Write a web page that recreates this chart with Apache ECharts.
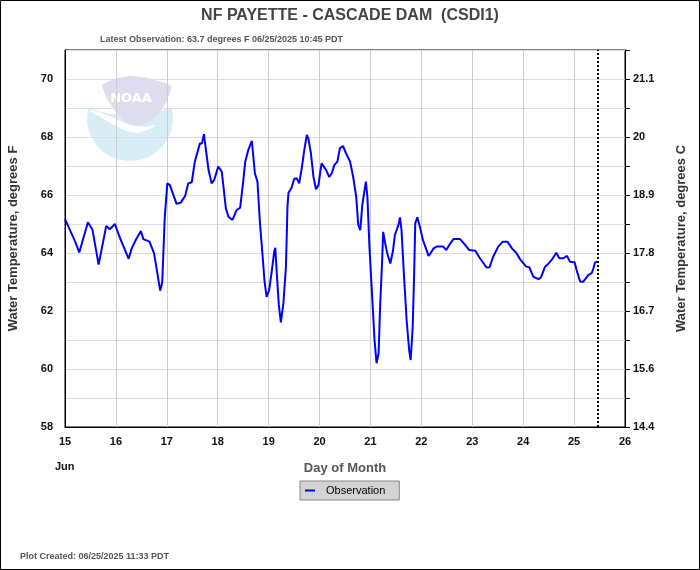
<!DOCTYPE html>
<html>
<head>
<meta charset="utf-8">
<script src="https://cdn.jsdelivr.net/npm/echarts@6/dist/echarts.min.js"></script>
<style>
html,body{margin:0;padding:0;background:#fff;}
#chart{width:700px;height:570px;}
</style>
</head>
<body>
<div id="chart"></div>
<script>
// Day of month (fractional, June 2025) and water temperature (degrees F)
const days = [
15.00,15.20,15.28,15.45,15.54,15.66,15.81,15.88,15.98,16.07,16.18,16.25,16.31,16.39,16.49,16.54,16.66,16.75,16.87,16.91,
16.96,17.01,17.06,17.19,17.27,17.36,17.42,17.49,17.55,17.65,17.69,17.73,17.76,17.82,17.88,17.93,18.01,18.08,18.16,18.21,
18.29,18.37,18.44,18.50,18.54,18.60,18.67,18.73,18.78,18.83,18.88,18.92,18.96,19.01,19.06,19.11,19.13,19.16,19.20,19.24,
19.29,19.34,19.37,19.39,19.45,19.50,19.55,19.60,19.65,19.70,19.75,19.78,19.83,19.88,19.93,19.98,20.01,20.04,20.07,20.13,
20.19,20.24,20.29,20.35,20.40,20.46,20.52,20.60,20.66,20.72,20.76,20.80,20.84,20.87,20.91,20.94,20.98,21.03,21.08,21.12,
21.16,21.19,21.23,21.25,21.29,21.33,21.39,21.44,21.48,21.55,21.58,21.61,21.66,21.71,21.76,21.79,21.83,21.86,21.88,21.92,
21.97,22.03,22.09,22.14,22.18,22.24,22.30,22.37,22.43,22.49,22.56,22.63,22.76,22.86,22.94,23.06,23.15,23.28,23.34,23.41,
23.51,23.60,23.69,23.78,23.87,23.94,24.06,24.12,24.20,24.30,24.35,24.43,24.50,24.56,24.65,24.71,24.79,24.86,24.92,25.01,
25.05,25.12,25.18,25.28,25.35,25.38,25.41,25.45
];
const tempsF = [
65.17,64.39,64.02,65.06,64.80,63.60,64.93,64.82,65.00,64.56,64.10,63.80,64.16,64.45,64.76,64.48,64.39,63.99,62.70,62.99,
65.25,66.40,66.34,65.70,65.73,65.97,66.40,66.44,67.15,67.78,67.78,68.10,67.67,66.86,66.40,66.52,66.98,66.80,65.54,65.25,
65.14,65.48,65.56,66.46,67.15,67.55,67.87,66.75,66.46,65.02,63.93,63.01,62.49,62.72,63.36,64.05,64.18,63.30,62.21,61.61,
62.27,63.53,65.60,66.08,66.25,66.55,66.58,66.40,66.92,67.55,68.07,67.95,67.44,66.63,66.20,66.34,66.75,67.09,67.11,66.86,
66.62,66.75,67.03,67.15,67.61,67.69,67.44,67.15,66.63,65.94,64.97,64.79,65.66,66.00,66.46,65.94,64.22,62.61,61.00,60.20,
60.54,62.15,63.76,64.73,64.33,63.99,63.64,64.05,64.62,64.97,65.23,64.79,63.18,61.69,60.66,60.31,61.46,63.41,65.02,65.23,
64.91,64.45,64.16,63.90,63.99,64.16,64.22,64.22,64.22,64.10,64.31,64.48,64.48,64.28,64.10,64.08,63.82,63.50,63.51,63.87,
64.22,64.39,64.39,64.16,63.99,63.78,63.53,63.51,63.18,63.10,63.16,63.53,63.64,63.76,64.01,63.82,63.82,63.90,63.70,63.68,
63.41,63.01,63.01,63.24,63.32,63.47,63.67,63.70
];
const xTicks = [15,16,17,18,19,20,21,22,23,24,25,26];
const plotCreatedDay = 25.47; // 06/25/2025 11:33 PDT
const titleText = 'NF PAYETTE - CASCADE DAM  (CSDI1)';
const subtitleText = 'Latest Observation: 63.7 degrees F 06/25/2025 10:45 PDT';
const createdText = 'Plot Created: 06/25/2025 11:33 PDT';
const seriesName = 'Observation';

const seriesData = days.map((d, i) => [d, tempsF[i]]);
const FONT = '"Liberation Sans", Arial, sans-serif';

function fToC(v) {
  const c = (v - 32) * 5 / 9;
  let s = c.toFixed(1);
  if (s.endsWith('.0')) s = s.slice(0, -2);
  return s;
}

// NOAA watermark shapes (decoration)
const cx = 130, cy = 118, r = 43;
const cyanPts = [];
for (let a = 0; a <= 180; a += 4) {
  const t = a * Math.PI / 180;
  cyanPts.push([cx + r * Math.cos(t), cy + r * Math.sin(t)]);
}
cyanPts.push([cx - r + 1, cy - 10]);
cyanPts.push([cx - 20, cy - 4]);
cyanPts.push([cx + 25, cy - 6]);
cyanPts.push([cx + r - 1, cy - 10]);

const chart = echarts.init(document.getElementById('chart'), null, {renderer: 'canvas'});
chart.setOption({
  animation: false,
  backgroundColor: '#fff',
  textStyle: {fontFamily: FONT},
  title: {
    text: titleText,
    left: 'center',
    top: 3,
    textStyle: {fontSize: 16, fontWeight: 'bold', color: '#444', fontFamily: FONT}
  },
  graphic: [
    {type: 'rect', z: 100, silent: true, shape: {x: 0.5, y: 0.5, width: 699, height: 569},
     style: {fill: 'none', stroke: '#000', lineWidth: 1}},
    {type: 'polygon', z: -5, silent: true, shape: {points: cyanPts}, style: {fill: '#d8eef7'}},
    {type: 'polygon', z: -4, silent: true, shape: {points: [
      [101.7,85],[113.3,79],[130,75.7],[146.7,77.7],[166.7,83.3],[171.7,86.7],[166.7,101.7],[158.3,115],
      [146.7,123.3],[136.7,126.7],[126.7,123.3],[116.7,113.3],[106.7,98.3]]}, style: {fill: '#dedcef'}},
    {type: 'polygon', z: -3, silent: true, shape: {points: [
      [88,110],[100,117],[114,125],[126,131],[138,133],[150,129],[157,125],[144,127],[130,125],[116,119],[100,112]]},
     style: {fill: '#ffffff'}},
    {type: 'text', z: -2, silent: true, style: {text: 'NOAA', x: 131, y: 99, align: 'center', verticalAlign: 'middle',
      fill: '#ffffff', font: 'bold 13px "DejaVu Sans", sans-serif'}},
    {type: 'text', silent: true, style: {text: subtitleText, x: 100, y: 40, verticalAlign: 'middle',
      fill: '#555', font: 'bold 9px ' + FONT}},
    {type: 'text', silent: true, style: {text: 'Jun', x: 55, y: 467, verticalAlign: 'middle',
      fill: '#111', font: 'bold 11px ' + FONT}},
    {type: 'text', silent: true, style: {text: createdText, x: 20, y: 557, verticalAlign: 'middle',
      fill: '#555', font: 'bold 9px ' + FONT}}
  ],
  legend: {
    data: [seriesName],
    left: 300,
    top: 481,
    backgroundColor: '#d3d3d3',
    borderColor: '#888',
    borderWidth: 1,
    borderRadius: 0,
    padding: [4, 14, 4, 5],
    itemWidth: 10,
    itemHeight: 2,
    icon: 'rect',
    itemGap: 10,
    textStyle: {fontSize: 11, color: '#000', fontFamily: FONT, padding: [0,0,0,6]}
  },
  grid: {left: 65, right: 75, top: 50, bottom: 143, show: true, borderColor: '#000', borderWidth: 1,
    backgroundColor: 'transparent', containLabel: false, outerBoundsMode: 'none'},
  xAxis: {
    type: 'value', min: xTicks[0], max: xTicks[xTicks.length - 1], interval: 1,
    name: 'Day of Month', nameLocation: 'middle', nameGap: 35,
    nameTextStyle: {fontSize: 13, fontWeight: 'bold', color: '#555', fontFamily: FONT},
    axisLine: {show: true, lineStyle: {color: '#000', width: 1}},
    axisTick: {show: false},
    axisLabel: {fontSize: 11, fontWeight: 'bold', color: '#111', margin: 9, showMinLabel: true, showMaxLabel: true,
      fontFamily: FONT},
    splitLine: {show: true, lineStyle: {color: '#cccccc', width: 1}}
  },
  yAxis: [
    {
      type: 'value', min: 58, max: 71, interval: 1, position: 'left',
      name: 'Water Temperature, degrees F', nameLocation: 'middle', nameGap: 45, nameRotate: 90,
      nameTextStyle: {fontSize: 13, fontWeight: 'bold', color: '#333', fontFamily: FONT},
      axisLine: {show: true, lineStyle: {color: '#000'}},
      axisTick: {show: false},
      axisLabel: {fontSize: 11, fontWeight: 'bold', color: '#111', margin: 12, fontFamily: FONT,
        showMinLabel: true, showMaxLabel: true,
        formatter: v => (Math.round(v) % 2 === 0 ? String(v) : '')},
      splitLine: {show: true, lineStyle: {color: '#dddddd', width: 1}}
    },
    {
      type: 'value', min: 58, max: 71, interval: 1, position: 'right',
      name: 'Water Temperature, degrees C', nameLocation: 'middle', nameGap: 50, nameRotate: 90,
      nameTextStyle: {fontSize: 13, fontWeight: 'bold', color: '#333', fontFamily: FONT},
      axisLine: {show: true, lineStyle: {color: '#000'}},
      axisTick: {show: true, inside: false, length: 5, lineStyle: {color: '#000'}},
      axisLabel: {fontSize: 11, fontWeight: 'bold', color: '#111', margin: 8, fontFamily: FONT,
        showMinLabel: true, showMaxLabel: true,
        formatter: v => (Math.round(v) % 2 === 0 ? fToC(v) : '')},
      splitLine: {show: false}
    }
  ],
  series: [{
    name: seriesName,
    type: 'line',
    data: seriesData,
    showSymbol: false,
    symbol: 'none',
    lineStyle: {color: '#0000ff', width: 2},
    itemStyle: {color: '#0000ff'},
    z: 5,
    markLine: {
      silent: true,
      symbol: ['none', 'none'],
      label: {show: false},
      lineStyle: {color: '#000', type: [2, 2], width: 2},
      data: [{xAxis: plotCreatedDay}]
    }
  }]
});
</script>
</body>
</html>
